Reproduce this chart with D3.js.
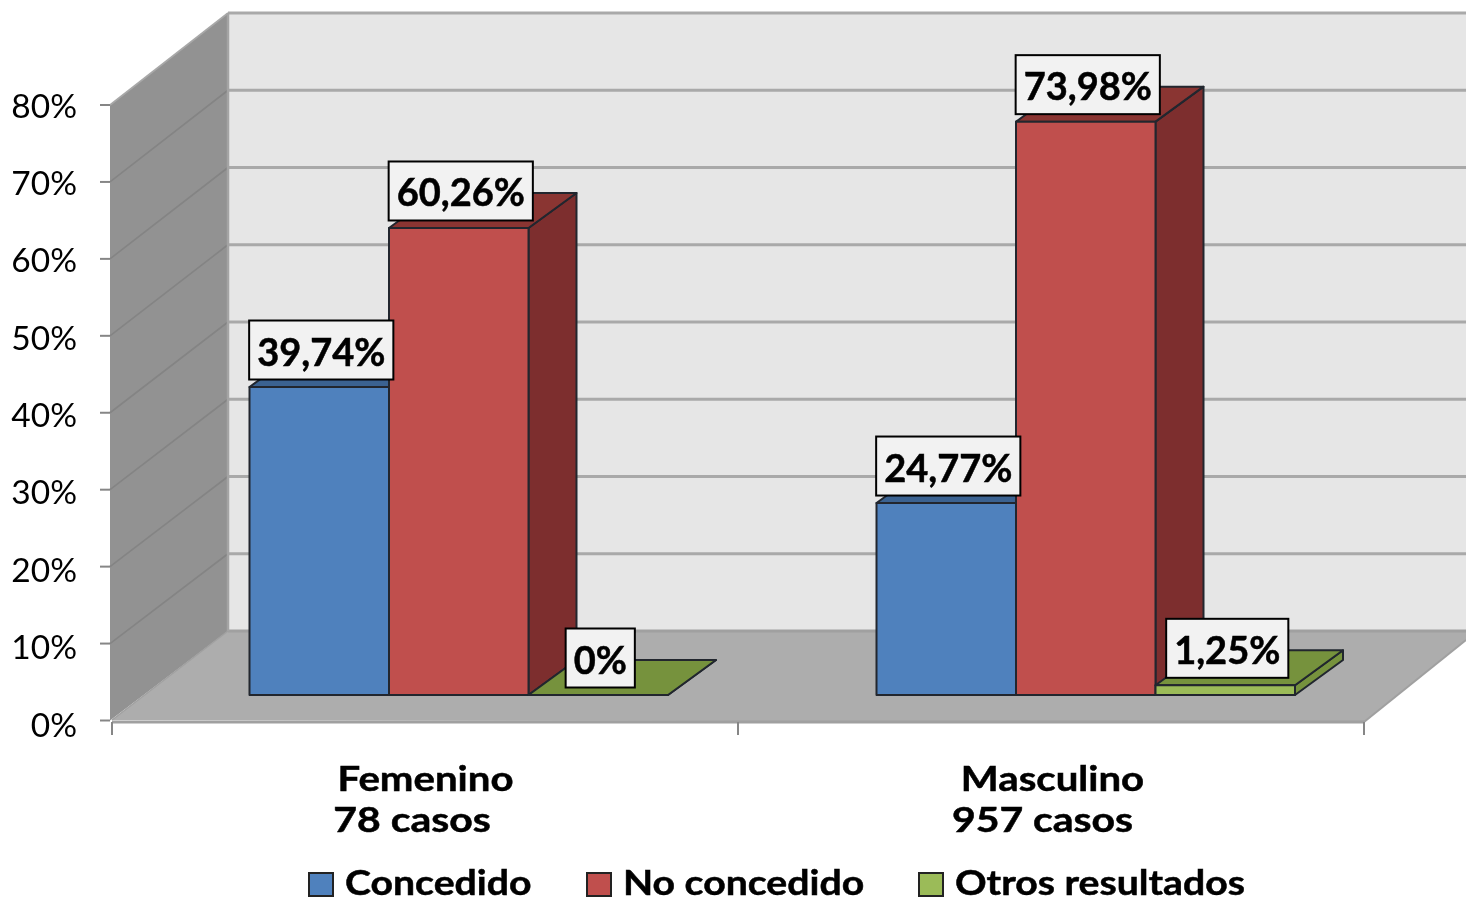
<!DOCTYPE html>
<html><head><meta charset="utf-8">
<script src="https://cdn.jsdelivr.net/npm/d3@7"></script>
<style>html,body{margin:0;background:#fff;overflow:hidden}svg{display:block}text{font-family:Lato,"Open Sans",sans-serif;fill:#000}</style>
</head><body><svg id="c" width="1466" height="902"></svg>
<script>
const categories=["Femenino","Masculino"];
const categorySub=["78 casos","957 casos"];
const series=["Concedido","No concedido","Otros resultados"];
const concedido=[39.74,24.77];
const noConcedido=[60.26,73.98];
const otros=[0,1.25];
const labelsConcedido=["39,74%","24,77%"];
const labelsNoConcedido=["60,26%","73,98%"];
const labelsOtros=["0%","1,25%"];
const yTicks=[0,10,20,30,40,50,60,70,80];
const front=["#4f81bd","#c0504d","#9bbb59"];
const side=["#3a6291","#7d2f2e","#76923c"];
const top_=["#3a6291","#8a3533","#76923c"];

const W={x0:110,x1:228};
const svgRoot=d3.select("#c");
const defs=svgRoot.append("defs");
defs.append("filter").attr("id","soft").attr("x",0).attr("y",0).attr("width","100%").attr("height","100%")
  .append("feGaussianBlur").attr("stdDeviation",0.55);
const svg=svgRoot.append("g").attr("filter","url(#soft)");
svg.append("rect").attr("width",1466).attr("height",902).attr("fill","#fff");
const yFront=d3.scaleLinear().domain([0,80]).range([720.5,105]);
const yLabel=d3.scaleLinear().domain([0,80]).range([736.5,117.5]);
const yWall=d3.scaleLinear().domain([0,80]).range([631,13]);
const yBar=d3.scaleLinear().domain([0,80]).range([695,75]);
const xCat=d3.scaleBand().domain(categories).range([111,1365]);
const xSer=d3.scaleBand().domain(series).range([138.5,557]);
const xTick=d3.scaleLinear().domain([0,2]).range([112,1364]);
const depth={dx:48,dy:-35};
const line=d3.line();
const poly=(pts,fill,stroke,sw)=>svg.append("path").attr("d",line(pts)+"Z").attr("fill",fill)
  .attr("stroke",stroke||"none").attr("stroke-width",sw||0).attr("stroke-linejoin","round");

// walls and floor
poly([[228,13],[1466,13],[1466,631],[228,631]],"#e6e6e6");
poly([[W.x0,yFront(80)],[W.x1,yWall(80)],[W.x1,yWall(0)],[W.x0,yFront(0)]],"#929292");
poly([[112,720],[228,631],[1466,631],[1466,640],[1364,722]],"#adadad");

// gridlines
svg.append("g").selectAll("line").data(yTicks).join("line")
  .attr("x1",228).attr("x2",1466).attr("y1",d=>yWall(d)).attr("y2",d=>yWall(d))
  .attr("stroke",d=>d===0?"#a0a0a0":"#a9a9a9").attr("stroke-width",3);
svg.append("g").selectAll("line").data(yTicks.slice(1)).join("line")
  .attr("x1",W.x0).attr("x2",W.x1).attr("y1",d=>yFront(d)).attr("y2",d=>yWall(d))
  .attr("stroke",d=>d===80?"#a8a8a8":"#848484").attr("stroke-width",1.6);
svg.append("line").attr("x1",228).attr("x2",228).attr("y1",13).attr("y2",631).attr("stroke","#a4a4a4").attr("stroke-width",2.5);
svg.append("line").attr("x1",112).attr("x2",1364).attr("y1",722).attr("y2",722).attr("stroke","#a0a0a0").attr("stroke-width",3);
svg.append("line").attr("x1",1364).attr("x2",1466).attr("y1",722).attr("y2",640).attr("stroke","#a0a0a0").attr("stroke-width",2);
svg.append("line").attr("x1",112).attr("x2",228).attr("y1",720).attr("y2",631).attr("stroke","#a0a0a0").attr("stroke-width",1.5);

// axes
const axisY=svg.append("g");
axisY.selectAll("line").data(yTicks).join("line")
  .attr("x1",100).attr("x2",110).attr("y1",d=>yFront(d)).attr("y2",d=>yFront(d))
  .attr("stroke","#868686").attr("stroke-width",2);
axisY.selectAll("text").data(yTicks).join("text")
  .attr("x",77).attr("y",d=>yLabel(d)).attr("text-anchor","end")
  .style("font-size","33.5px").text(d=>d+"%");
svg.append("g").selectAll("line").data([0,1,2]).join("line")
  .attr("x1",d=>xTick(d)).attr("x2",d=>xTick(d)).attr("y1",722).attr("y2",735).attr("stroke","#868686").attr("stroke-width",2);

// bars
const valuesBy=[concedido,noConcedido,otros];
const labelsBy=[labelsConcedido,labelsNoConcedido,labelsOtros];
const stroke="#20262e";
const boxes=[];
categories.forEach((c,ci)=>{
  series.forEach((s,si)=>{
    const v=valuesBy[si][ci];
    const x0=xCat(c)+xSer(s), x1=x0+xSer.bandwidth();
    const yT=yBar(v), yB=yBar(0);
    const {dx,dy}=depth;
    poly([[x1,yB],[x1+dx,yB+dy],[x1+dx,yT+dy],[x1,yT]],side[si],stroke,2);
    poly([[x0,yT],[x0+dx,yT+dy],[x1+dx,yT+dy],[x1,yT]],top_[si],stroke,2);
    if(v>0) poly([[x0,yB],[x1,yB],[x1,yT],[x0,yT]],front[si],stroke,2);
    boxes.push({t:labelsBy[si][ci],cx:(x0+x1)/2+2,cy:yT-37});
  });
});

// bold text helper: the reference's bold type is wider and heavier than Lato's
const bold=(g,x,y,size,sx,anchor,str)=>g.append("text")
  .attr("transform",`translate(${x},${y}) scale(${sx},1)`).attr("text-anchor",anchor)
  .style("font-size",size+"px").style("font-weight",700)
  .attr("stroke","#000").attr("stroke-width",0.5).text(str);

// data labels
const bg=svg.append("g"), fg=svg.append("g");
boxes.forEach(b=>{
  const t=bold(fg,b.cx,b.cy+15.5,38,1,"middle",b.t);
  const w=t.node().getBBox().width+16;
  bg.append("rect").attr("x",b.cx-w/2).attr("y",b.cy-29.5).attr("width",w).attr("height",59)
    .attr("fill","#f2f2f2").attr("stroke","#000").attr("stroke-width",2);
});

// category labels
const catG=svg.append("g");
const catX=[425.5,1052.5], subX=[412,1042.5];
categories.forEach((c,i)=>{
  bold(catG,catX[i],791,35,1.147,"middle",c);
  bold(catG,subX[i],832,35,1.17,"middle",categorySub[i]);
});

// legend
const lx=[309,587,919];
series.forEach((s,i)=>{
  svg.append("rect").attr("x",lx[i]).attr("y",873).attr("width",24).attr("height",23)
    .attr("fill",front[i]).attr("stroke","#222").attr("stroke-width",2);
  bold(svg,lx[i]+36,894.5,35,1.12,"start",s);
});
</script></body></html>
